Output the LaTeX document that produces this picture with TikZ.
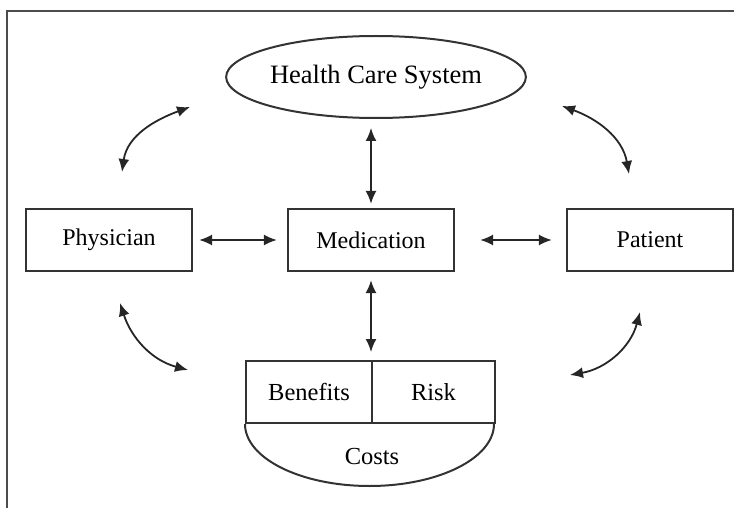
\documentclass[tikz,border=0pt]{standalone}
\usepackage{fontspec}
\setmainfont{Liberation Serif}
\usetikzlibrary{shapes.geometric,arrows.meta}

\def\bw{166pt}
\def\bh{62pt}
\tikzstyle{box}=[rectangle,draw=black!80,line width=2.2pt,minimum width=\bw,minimum height=\bh,inner sep=0pt,font=\fontsize{24}{28}\selectfont]
\tikzstyle{half}=[rectangle,draw=black!80,line width=2pt,minimum height=\bh,inner sep=0pt,font=\fontsize{24.5}{28}\selectfont]
\tikzstyle{oval}=[ellipse,draw=black!80,line width=2pt,minimum width=278pt,minimum height=82pt,inner sep=0pt,font=\fontsize{26.5}{30}\selectfont]
\tikzstyle{arr}=[{Latex[length=13pt,width=11pt]}-{Latex[length=13pt,width=11pt]},line width=1.8pt,draw=black!85]
\tikzstyle{frame}=[draw=black!70,line width=2pt]

\begin{document}
\begin{tikzpicture}[x=1pt,y=1pt]
			\useasboundingbox (0,0) rectangle (734,-508);
			\draw[frame] (7,-508) -- (7,-11) -- (734,-11);
			\node[oval](hcs) at (376,-77){Health Care System};
			\node[box](phy) at (109,-240){Physician};
			\node[box](med) at (371,-240){Medication};
			\node[box](pat) at (650,-240){Patient};
			\node[half,minimum width=126pt](ben) at (309,-392){Benefits};
			\node[half,minimum width=123pt](risk) at (433.5,-392){Risk};
			\node[font=\fontsize{24.5}{28}\selectfont](cost) at (372,-457){Costs};
			\draw[black!80,line width=2pt] (ben.south west) arc[start angle=180,end angle=360,x radius=124.5pt,y radius=62pt];
			% straight links
			\draw[arr]([yshift=-9pt]hcs.south -| med.north)--([yshift=4pt]med.north);
			\draw[arr]([yshift=-8pt]med.south)--([yshift=8pt]ben.north east -| med.south);
			\draw[arr]([xshift=6pt]phy.east)--([xshift=-10pt]med.west);
			\draw[arr]([xshift=25pt]med.east)--([xshift=-14pt]pat.west);
			% curved links
			\coordinate(ul1) at (122,-172);
			\coordinate(ul2) at (190,-107);
			\coordinate(ur1) at (629,-174);
			\coordinate(ur2) at (562,-106);
			\coordinate(ll1) at (120,-303);
			\coordinate(ll2) at (188,-370);
			\coordinate(lr1) at (640,-312);
			\coordinate(lr2) at (570,-375);
			\draw[arr](ul1) to[out=82,in=200] (ul2);
			\draw[arr](ur1) to[out=100,in=-20] (ur2);
			\draw[arr](ll1) to[out=-72,in=165] (ll2);
			\draw[arr](lr1) to[out=-105,in=10] (lr2);
		\end{tikzpicture}
\end{document}
